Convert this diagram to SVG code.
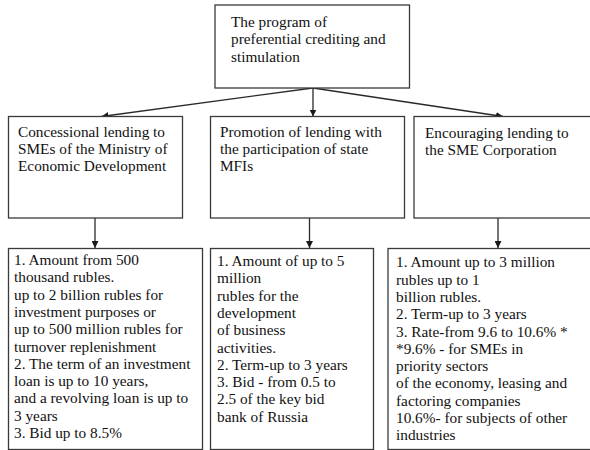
<svg xmlns="http://www.w3.org/2000/svg" width="590" height="450" viewBox="0 0 590 450">
<defs>
<style>
.box{fill:#fff;stroke:#3a3a3a;stroke-width:1.3}
.t{font-family:"Liberation Serif","Times New Roman",serif;font-size:15.3px;fill:#111}
.c{stroke:#2a2a2a;stroke-width:1.3;fill:none}
</style>
<marker id="ah" viewBox="0 0 10 10" refX="10" refY="5" markerWidth="7" markerHeight="7" markerUnits="userSpaceOnUse" orient="auto">
<path d="M0,0 L10,5 L0,10 z" fill="#1a1a1a"/>
</marker>
</defs>
<rect width="590" height="450" fill="#fff"/>
<g id="connectors">
<line class="c" x1="313" y1="88" x2="101.5" y2="116.5" marker-end="url(#ah)"/>
<line class="c" x1="313" y1="88" x2="313" y2="116.5" marker-end="url(#ah)"/>
<line class="c" x1="313" y1="88" x2="503" y2="116.5" marker-end="url(#ah)"/>
<line class="c" x1="95" y1="218" x2="95" y2="248" marker-end="url(#ah)"/>
<line class="c" x1="309.5" y1="218" x2="309.5" y2="248" marker-end="url(#ah)"/>
<line class="c" x1="498" y1="218" x2="498" y2="248" marker-end="url(#ah)"/>
</g>
<g id="root">
<rect class="box" x="215" y="5" width="194.5" height="83"/>
<text class="t" x="231" y="27">The program of</text>
<text class="t" x="231" y="44.3">preferential crediting and</text>
<text class="t" x="231" y="61.6">stimulation</text>
</g>
<g id="concessional">
<rect class="box" x="8.5" y="116.5" width="174" height="101.5"/>
<text class="t" x="18" y="136.5">Concessional lending to</text>
<text class="t" x="18" y="153.8">SMEs of the Ministry of</text>
<text class="t" x="18" y="171.1">Economic Development</text>
</g>
<g id="promotion">
<rect class="box" x="210.5" y="116.5" width="194" height="101.5"/>
<text class="t" x="220" y="136.5">Promotion of lending with</text>
<text class="t" x="220" y="153.8">the participation of state</text>
<text class="t" x="220" y="171.1">MFIs</text>
</g>
<g id="encouraging">
<rect class="box" x="414" y="116.5" width="190" height="101.5"/>
<text class="t" x="425" y="138">Encouraging lending to</text>
<text class="t" x="425" y="155.3">the SME Corporation</text>
</g>
<g id="details-concessional">
<rect class="box" x="8.5" y="248.5" width="194" height="201"/>
<text class="t" x="14">
<tspan x="14" y="265">1. Amount from 500</tspan>
<tspan x="14" y="282.3">thousand rubles.</tspan>
<tspan x="14" y="299.6">up to 2 billion rubles for</tspan>
<tspan x="14" y="316.9">investment purposes or</tspan>
<tspan x="14" y="334.2">up to 500 million rubles for</tspan>
<tspan x="14" y="351.5">turnover replenishment</tspan>
<tspan x="14" y="368.8">2. The term of an investment</tspan>
<tspan x="14" y="386.1">loan is up to 10 years,</tspan>
<tspan x="14" y="403.4">and a revolving loan is up to</tspan>
<tspan x="14" y="420.7">3 years</tspan>
<tspan x="14" y="438">3. Bid up to 8.5%</tspan>
</text>
</g>
<g id="details-promotion">
<rect class="box" x="210.5" y="248.5" width="163" height="201"/>
<text class="t">
<tspan x="217" y="266">1. Amount of up to 5</tspan>
<tspan x="217" y="283.3">million</tspan>
<tspan x="217" y="300.6">rubles for the</tspan>
<tspan x="217" y="317.9">development</tspan>
<tspan x="217" y="335.2">of business</tspan>
<tspan x="217" y="352.5">activities.</tspan>
<tspan x="217" y="369.8">2. Term-up to 3 years</tspan>
<tspan x="217" y="387.1">3. Bid - from 0.5 to</tspan>
<tspan x="217" y="404.4">2.5 of the key bid</tspan>
<tspan x="217" y="421.7">bank of Russia</tspan>
</text>
</g>
<g id="details-encouraging">
<rect class="box" x="388" y="248.5" width="216" height="201"/>
<text class="t">
<tspan x="396" y="267.3">1. Amount up to 3 million</tspan>
<tspan x="396" y="284.6">rubles up to 1</tspan>
<tspan x="396" y="301.9">billion rubles.</tspan>
<tspan x="396" y="319.2">2. Term-up to 3 years</tspan>
<tspan x="396" y="336.5">3. Rate-from 9.6 to 10.6% *</tspan>
<tspan x="396" y="353.8">*9.6% - for SMEs in</tspan>
<tspan x="396" y="371.1">priority sectors</tspan>
<tspan x="396" y="388.4">of the economy, leasing and</tspan>
<tspan x="396" y="405.7">factoring companies</tspan>
<tspan x="396" y="423">10.6%- for subjects of other</tspan>
<tspan x="396" y="440.3">industries</tspan>
</text>
</g>
</svg>
